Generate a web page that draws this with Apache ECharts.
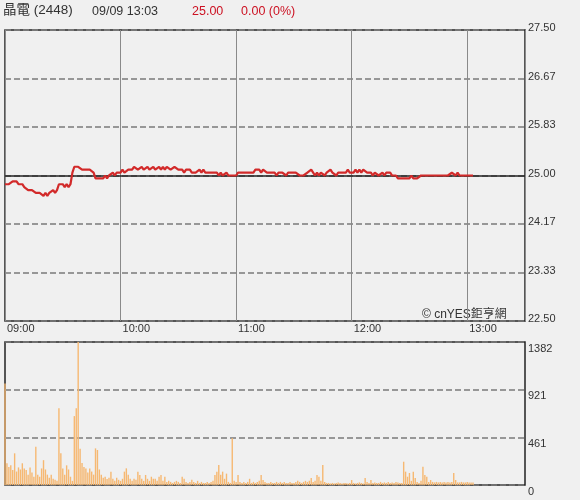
<!DOCTYPE html>
<html><head><meta charset="utf-8">
<script src="https://cdn.jsdelivr.net/npm/echarts@6/dist/echarts.min.js"></script>
<style>html,body{margin:0;padding:0;background:#f0f0f0;}#c{width:580px;height:500px;}</style>
</head><body><div id="c"></div>
<script>
// ---- data ----
const stockName = '晶電 (2448)';
const stamp = '09/09 13:03';
const lastPrice = '25.00';
const change = '0.00 (0%)';
const prevClose = 25.00;
const timeLabels = ['09:00', '10:00', '11:00', '12:00', '13:00'];
const priceMin = 22.5, priceMax = 27.5;
const volMax = 1382;
// one value per minute from 09:00
const prices = [
24.85,24.85,24.85,24.85,24.90,24.90,24.90,24.85,24.85,24.85,
24.80,24.80,24.75,24.75,24.75,24.75,24.70,24.70,24.70,24.70,
24.65,24.70,24.65,24.70,24.70,24.75,24.70,24.75,24.85,24.85,
24.85,24.80,24.85,24.80,24.85,25.05,25.15,25.15,25.15,25.15,
25.10,25.10,25.10,25.10,25.10,25.10,25.05,24.95,24.95,24.95,
24.95,24.95,25.00,24.95,25.00,25.00,25.05,25.00,25.05,25.05,
25.05,25.10,25.05,25.05,25.10,25.10,25.10,25.15,25.15,25.10,
25.10,25.15,25.10,25.10,25.15,25.10,25.10,25.15,25.10,25.10,
25.15,25.10,25.15,25.10,25.15,25.15,25.10,25.10,25.15,25.15,
25.10,25.10,25.10,25.05,25.10,25.10,25.10,25.05,25.05,25.05,
25.05,25.10,25.05,25.10,25.05,25.05,25.05,25.05,25.05,25.05,
25.05,25.00,25.05,25.00,25.00,25.05,25.00,25.00,25.00,25.00,
25.00,25.05,25.05,25.05,25.05,25.05,25.05,25.05,25.05,25.05,
25.10,25.10,25.10,25.05,25.10,25.10,25.05,25.05,25.05,25.05,
25.05,25.00,25.05,25.05,25.05,25.05,25.00,25.05,25.05,25.05,
25.05,25.05,25.05,25.00,25.00,25.00,25.00,25.05,25.05,25.10,
25.05,25.00,25.05,25.00,25.05,25.05,25.00,25.05,25.05,25.10,
25.05,25.05,25.00,25.05,25.05,25.05,25.05,25.05,25.10,25.05,
25.05,25.05,25.10,25.05,25.10,25.05,25.10,25.10,25.05,25.05,
25.05,25.00,25.05,25.05,25.00,25.00,25.05,25.00,25.05,25.05,
25.05,25.00,25.00,25.00,24.95,24.95,24.95,24.95,24.95,24.95,
24.95,25.00,24.95,24.95,24.95,24.95,25.00,25.00,25.00,25.00,
25.00,25.00,25.00,25.00,25.00,25.00,25.00,25.00,25.00,25.00,
25.00,25.00,25.05,25.05,25.00,25.05,25.00,25.00,25.00,25.00,
25.00,25.00,25.00,25.00
];
const volumes = [
980,210,175,190,145,306,130,170,150,210,
160,145,100,170,120,80,370,100,80,160,
240,150,100,70,100,60,50,40,741,306,
160,100,190,150,80,40,666,741,1382,350,
212,174,160,120,160,130,100,354,338,150,
100,70,80,58,70,129,60,40,70,50,
40,60,129,161,100,60,40,60,50,129,
97,60,40,97,60,40,80,60,60,40,
80,97,40,80,30,40,30,20,30,40,
30,20,80,60,30,20,30,50,30,20,
40,20,30,20,20,30,20,30,40,97,
129,193,100,129,60,110,30,20,451,40,
30,97,30,20,30,20,30,60,20,30,
20,30,40,97,48,30,20,20,30,20,
20,30,20,30,20,30,20,20,30,20,
20,30,40,30,20,30,40,30,40,68,
30,40,97,80,40,193,30,20,20,15,
20,15,20,25,20,15,20,20,15,20,
48,20,15,20,25,20,15,68,30,20,
48,20,25,20,20,30,20,25,20,30,
20,25,20,30,25,20,20,225,129,80,
116,40,129,68,30,20,40,177,97,80,
30,48,30,25,30,25,30,25,30,25,
30,25,30,116,48,25,25,30,25,25,
30,25,25,25
];

// ---- chart ----
const priceData = prices.map((v, i) => [i, v]);
const volData = volumes.map((v, i) => [i, v]);
const fontFam = 'Arial, "Liberation Sans", "Noto Sans CJK TC", sans-serif';
const dashed = { color: '#7a7a7a', width: 1.5, type: [6, 3] };

const chart = echarts.init(document.getElementById('c'), null, { renderer: 'canvas' });
chart.setOption({
  animation: false,
  backgroundColor: '#f0f0f0',
  textStyle: { fontFamily: fontFam },
  grid: [
    { left: 5, top: 30, width: 520, height: 291, show: true, borderColor: '#222', borderWidth: 1.5, backgroundColor: 'transparent' },
    { left: 5, top: 342, width: 520, height: 143, show: true, borderColor: '#222', borderWidth: 1.5, backgroundColor: 'transparent' }
  ],
  xAxis: [
    { type: 'value', gridIndex: 0, min: 0, max: 270, interval: 60,
      axisLine: { show: false }, axisTick: { show: false },
      splitLine: { show: true, lineStyle: { color: '#8a8a8a', width: 1 } },
      axisLabel: { show: true, margin: 2, align: 'left', padding: [0, 0, 0, 2], color: '#333', fontSize: 11, fontFamily: fontFam,
        formatter: v => (v % 60 === 0 && timeLabels[v / 60]) ? timeLabels[v / 60] : '' } },
    { type: 'value', gridIndex: 1, min: 0, max: 270, interval: 60,
      axisLine: { show: false }, axisTick: { show: false }, splitLine: { show: false }, axisLabel: { show: false } }
  ],
  yAxis: [
    { type: 'value', gridIndex: 0, position: 'right', min: priceMin, max: priceMax, interval: (priceMax - priceMin) / 6,
      axisLine: { show: false }, axisTick: { show: false },
      splitLine: { show: true, lineStyle: dashed },
      axisLabel: { margin: 3, color: '#333', fontSize: 11, fontFamily: fontFam, verticalAlign: 'bottom', lineHeight: 4,
        formatter: v => v.toFixed(2) } },
    { type: 'value', gridIndex: 1, position: 'right', min: 0, max: volMax, interval: volMax / 3,
      axisLine: { show: false }, axisTick: { show: false },
      splitLine: { show: true, lineStyle: dashed },
      axisLabel: { margin: 3, color: '#333', fontSize: 11, fontFamily: fontFam, verticalAlign: 'top', padding: [1, 0, 0, 0],
        formatter: v => String(Math.round(v)) } }
  ],
  series: [
    { type: 'line', xAxisIndex: 0, yAxisIndex: 0, data: priceData, showSymbol: false, z: 5,
      lineStyle: { color: '#d22a2a', width: 2.2 },
      markLine: { silent: true, symbol: ['none', 'none'], label: { show: false },
        lineStyle: { color: '#222', width: 1.5, type: 'solid' }, data: [{ yAxis: prevClose }] } },
    { type: 'bar', xAxisIndex: 1, yAxisIndex: 1, data: volData, barWidth: 1.4,
      itemStyle: { color: '#f6b872' } }
  ],
  graphic: [
    { type: 'text', left: 3, top: 4, style: { text: stockName, fill: '#333', font: '13.5px ' + fontFam } },
    { type: 'text', left: 92, top: 5, style: { text: stamp, fill: '#333', font: '12.5px ' + fontFam } },
    { type: 'text', left: 192, top: 5, style: { text: lastPrice, fill: '#cc1122', font: '12.5px ' + fontFam } },
    { type: 'text', left: 241, top: 5, style: { text: change, fill: '#cc1122', font: '12.5px ' + fontFam } },
    { type: 'text', left: 422, top: 309, style: { text: '© cnYES鉅亨網', fill: '#333', font: '12px ' + fontFam } }
  ]
});
</script>
</body></html>
